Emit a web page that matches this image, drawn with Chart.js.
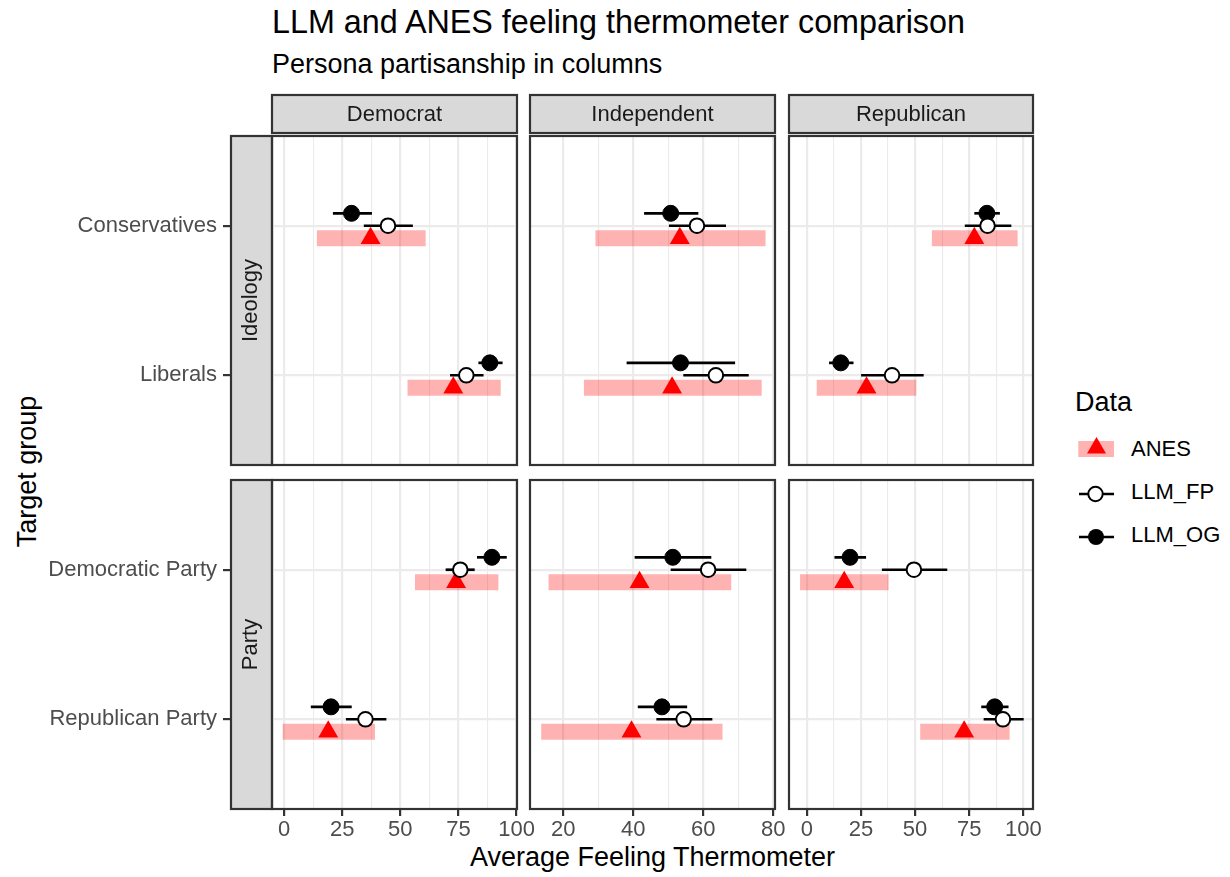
<!DOCTYPE html>
<html>
<head>
<meta charset="utf-8">
<script src="https://cdn.jsdelivr.net/npm/chart.js@4.4.1/dist/chart.umd.min.js"></script>
<style>
  body { margin: 0; background: #fff; }
  #wrap { position: relative; width: 1230px; height: 877px; overflow: hidden; font-family: "Liberation Sans", Arial, sans-serif; }
  .txt { position: absolute; white-space: nowrap; color: #000; }
  canvas { position: absolute; }
</style>
</head>
<body>
<div id="wrap">
  <div class="txt" style="left:272px;top:6px;font-size:32.3px;line-height:32px">LLM and ANES feeling thermometer comparison</div>
  <div class="txt" style="left:272px;top:51px;font-size:27px;line-height:27px">Persona partisanship in columns</div>
  <div class="txt" style="left:272px;width:761px;text-align:center;top:844px;font-size:27px;line-height:27px">Average Feeling Thermometer</div>
  <div class="txt" style="left:-123px;width:300px;text-align:center;top:458px;font-size:27px;line-height:27px;transform:rotate(-90deg)">Target group</div>

  <!-- legend -->
  <div class="txt" style="left:1075px;top:389px;font-size:27px;line-height:27px">Data</div>
  <svg style="position:absolute;left:1070px;top:430px" width="60" height="120">
    <rect x="8.3" y="11" width="35.7" height="16" fill="rgba(255,0,0,0.3)"></rect>
    <polygon points="26.5,7 17,23.5 36,23.5" fill="#ff0000"></polygon>
    <line x1="9" y1="64" x2="44" y2="64" stroke="#000" stroke-width="2.7"></line>
    <circle cx="25.5" cy="64" r="7.2" fill="#fff" stroke="#000" stroke-width="2"></circle>
    <line x1="9" y1="107" x2="44" y2="107" stroke="#000" stroke-width="2.7"></line>
    <circle cx="26" cy="107" r="8" fill="#000"></circle>
  </svg>
  <div class="txt" style="left:1131px;top:438px;font-size:22px;line-height:22px">ANES</div>
  <div class="txt" style="left:1131px;top:481px;font-size:22px;line-height:22px">LLM_FP</div>
  <div class="txt" style="left:1131px;top:524px;font-size:22px;line-height:22px">LLM_OG</div>
</div>
<script>
// facets
const personaCols = ['Democrat', 'Independent', 'Republican'];
const targetRows = ['Ideology', 'Party'];
const ideologyGroups = ['Conservatives', 'Liberals'];
const partyGroups = ['Democratic Party', 'Republican Party'];

// free x scale of each column
const colMin = [-5.2, 10.5, -8.2];
const colMax = [100.2, 80.5, 104.5];
const colTicks = [[0, 25, 50, 75, 100], [20, 40, 60, 80], [0, 25, 50, 75, 100]];

// one inner list per persona column, order: Conservatives, Liberals, Democratic Party, Republican Party
const anesMean = [[37.2, 72.8, 74.0, 19.0], [53.3, 51.1, 41.8, 39.5], [77.4, 27.6, 17.3, 72.7]];
const anesLow  = [[14.1, 53.1, 56.3, -0.6], [29.2, 25.9, 15.8, 13.7], [57.8, 4.6, -3.1, 52.4]];
const anesHigh = [[60.9, 93.2, 92.2, 39.1], [77.8, 76.7, 68.0, 65.5], [97.4, 50.6, 37.8, 93.7]];

const fpMean = [[44.7, 78.4, 75.8, 35.0], [58.2, 63.6, 61.4, 54.4], [83.5, 39.4, 49.5, 90.6]];
const fpLow  = [[34.3, 71.4, 69.5, 26.6], [50.2, 54.3, 50.7, 46.6], [73.0, 25.1, 34.7, 81.7]];
const fpHigh = [[55.4, 85.8, 82.0, 44.0], [66.5, 73.0, 72.3, 62.6], [94.5, 54.0, 64.9, 100.2]];

const ogMean = [[29.0, 88.5, 89.4, 20.2], [50.7, 53.5, 51.3, 48.2], [83.2, 15.7, 20.0, 86.8]];
const ogLow  = [[21.0, 83.6, 83.0, 11.5], [43.1, 38.1, 40.4, 41.3], [77.4, 10.3, 12.8, 80.6]];
const ogHigh = [[37.8, 94.0, 95.8, 29.1], [58.6, 69.1, 62.3, 55.4], [89.2, 21.6, 27.4, 93.2]];

const dodge = 0.083;

// where the panels sit on the page
const panelLeft = [272, 530, 789];
const panelRight = [517, 775, 1033];
const panelTop = [136, 480];
const panelBottom = [465, 809];
const pad = 24;

Chart.defaults.font.family = '"Liberation Sans", Arial, sans-serif';

// major ticks plus the minor lines half way between
function gridValues(c) {
  var major = colTicks[c];
  var step = major[1] - major[0];
  var vals = [];
  for (var v = major[0] - step / 2; v <= colMax[c] + 1e-9; v += step / 2) {
    if (v >= colMin[c]) vals.push(v);
  }
  return vals;
}

function segment(lo, hi, y, color, width, order) {
  return {
    data: [{ x: lo, y: y }, { x: hi, y: y }],
    showLine: true, pointRadius: 0, borderColor: color, borderWidth: width,
    borderCapStyle: 'butt', order: order, xAxisID: 'x', yAxisID: 'y'
  };
}

function buildDatasets(c, r) {
  var ds = [];
  var anesPts = [], fpPts = [], ogPts = [];
  for (var k = 0; k < 2; k++) {
    var t = r * 2 + k;
    var y = k + 1;
    ds.push(segment(anesLow[c][t], anesHigh[c][t], y + dodge, 'rgba(255,0,0,0.3)', 16, 6));
    ds.push(segment(fpLow[c][t], fpHigh[c][t], y, '#000', 2.7, 3));
    ds.push(segment(ogLow[c][t], ogHigh[c][t], y - dodge, '#000', 2.7, 3));
    anesPts.push({ x: anesMean[c][t], y: y + dodge });
    fpPts.push({ x: fpMean[c][t], y: y });
    ogPts.push({ x: ogMean[c][t], y: y - dodge });
  }
  ds.push({ data: anesPts, pointStyle: 'triangle', pointRadius: 11.5, backgroundColor: '#ff0000', borderColor: '#ff0000', borderWidth: 0, order: 4, xAxisID: 'x', yAxisID: 'y' });
  ds.push({ data: ogPts, pointStyle: 'circle', pointRadius: 8, backgroundColor: '#000', borderColor: '#000', borderWidth: 1, order: 2, xAxisID: 'x', yAxisID: 'y' });
  ds.push({ data: fpPts, pointStyle: 'circle', pointRadius: 7.3, backgroundColor: '#fff', borderColor: '#000', borderWidth: 2, order: 1, xAxisID: 'x', yAxisID: 'y' });
  return ds;
}

// strip backgrounds and the panel frame
const facetPlugin = {
  id: 'facet',
  beforeDraw: function (chart) {
    var ctx = chart.ctx;
    ctx.save();
    ctx.fillStyle = '#D9D9D9';
    ctx.strokeStyle = '#333333';
    ctx.lineWidth = 2.2;
    var s = chart.scales.stripTop;
    if (s) {
      ctx.fillRect(s.left, s.top + 1, s.width, s.height - 4);
      ctx.strokeRect(s.left, s.top + 1, s.width, s.height - 4);
    }
    s = chart.scales.strip;
    if (s) {
      ctx.fillRect(s.left + 1, s.top, s.width - 1, s.height);
      ctx.strokeRect(s.left + 1, s.top, s.width - 1, s.height);
    }
    ctx.restore();
  },
  afterDatasetsDraw: function (chart) {
    var a = chart.chartArea;
    var ctx = chart.ctx;
    ctx.save();
    ctx.strokeStyle = '#333333';
    ctx.lineWidth = 2.2;
    ctx.strokeRect(a.left, a.top, a.right - a.left, a.bottom - a.top);
    ctx.restore();
  }
};

function addPanel(c, r) {
  var first = c === 0;
  var bottom = r === 1;
  var top = r === 0;
  var leftAxes = first ? 232 : 0;
  var padLeft = first ? 0 : pad;
  var stripH = top ? 42 : 0;
  var xAxisH = bottom ? 40 : 0;
  var canvasLeft = panelLeft[c] - leftAxes - padLeft;
  var canvasTop = panelTop[r] - stripH - pad;
  var w = panelRight[c] + pad - canvasLeft;
  var h = panelBottom[r] + xAxisH + pad - canvasTop;

  var canvas = document.createElement('canvas');
  canvas.width = w;
  canvas.height = h;
  canvas.style.left = canvasLeft + 'px';
  canvas.style.top = canvasTop + 'px';
  document.getElementById('wrap').appendChild(canvas);

  var cats = r === 0 ? ideologyGroups : partyGroups;
  var majors = colTicks[c];
  var isMajor = function (ctx) { return ctx.tick && majors.indexOf(ctx.tick.value) >= 0; };

  var scales = {
    x: {
      type: 'linear', axis: 'x', position: 'bottom', min: colMin[c], max: colMax[c],
      afterBuildTicks: function (s) { s.ticks = gridValues(c).map(function (v) { return { value: v }; }); },
      ticks: {
        display: bottom, autoSkip: false, maxRotation: 0, padding: 1,
        color: '#4D4D4D', font: { size: 22 },
        callback: function (v) { return majors.indexOf(v) >= 0 ? String(v) : ''; }
      },
      grid: {
        color: '#EBEBEB', drawTicks: bottom, tickLength: 7, tickWidth: 2.2,
        lineWidth: function (ctx) { return isMajor(ctx) ? 2.2 : 1.1; },
        tickColor: function (ctx) { return isMajor(ctx) ? '#333333' : 'rgba(0,0,0,0)'; }
      },
      border: { display: false },
      afterFit: function (s) { s.height = xAxisH; }
    },
    y: {
      type: 'linear', axis: 'y', position: 'left', weight: 1, min: 0.4, max: 2.6, reverse: true,
      afterBuildTicks: function (s) { s.ticks = [{ value: 1 }, { value: 2 }]; },
      ticks: {
        display: first, autoSkip: false, padding: 6, color: '#4D4D4D', font: { size: 22 },
        callback: function (v) { return cats[v - 1]; }
      },
      grid: { color: '#EBEBEB', lineWidth: 2.2, drawTicks: first, tickLength: 7, tickWidth: 2.2, tickColor: '#333333' },
      border: { display: false },
      afterFit: function (s) { s.width = first ? 190 : 0; }
    }
  };

  if (first) {
    scales.strip = {
      type: 'linear', axis: 'y', position: 'left', weight: 0,
      ticks: { display: false }, grid: { display: false, drawTicks: false }, border: { display: false },
      title: { display: true, text: targetRows[r], color: '#1A1A1A', font: { size: 22 }, padding: { top: 8, bottom: 0 } },
      afterFit: function (s) { s.width = 42; }
    };
  }
  if (top) {
    scales.stripTop = {
      type: 'linear', axis: 'x', position: 'top',
      ticks: { display: false }, grid: { display: false, drawTicks: false }, border: { display: false },
      title: { display: true, text: personaCols[c], color: '#1A1A1A', font: { size: 22 }, padding: { top: 8, bottom: 0 } },
      afterFit: function (s) { s.height = 42; }
    };
  }

  new Chart(canvas, {
    type: 'scatter',
    data: { datasets: buildDatasets(c, r) },
    options: {
      responsive: false, animation: false, events: [],
      layout: { padding: { left: padLeft, right: pad, top: pad, bottom: pad } },
      plugins: { legend: { display: false }, tooltip: { enabled: false } },
      scales: scales
    },
    plugins: [facetPlugin]
  });
}

for (var r = 0; r < 2; r++) {
  for (var c = 0; c < 3; c++) {
    addPanel(c, r);
  }
}
</script>
</body>
</html>
